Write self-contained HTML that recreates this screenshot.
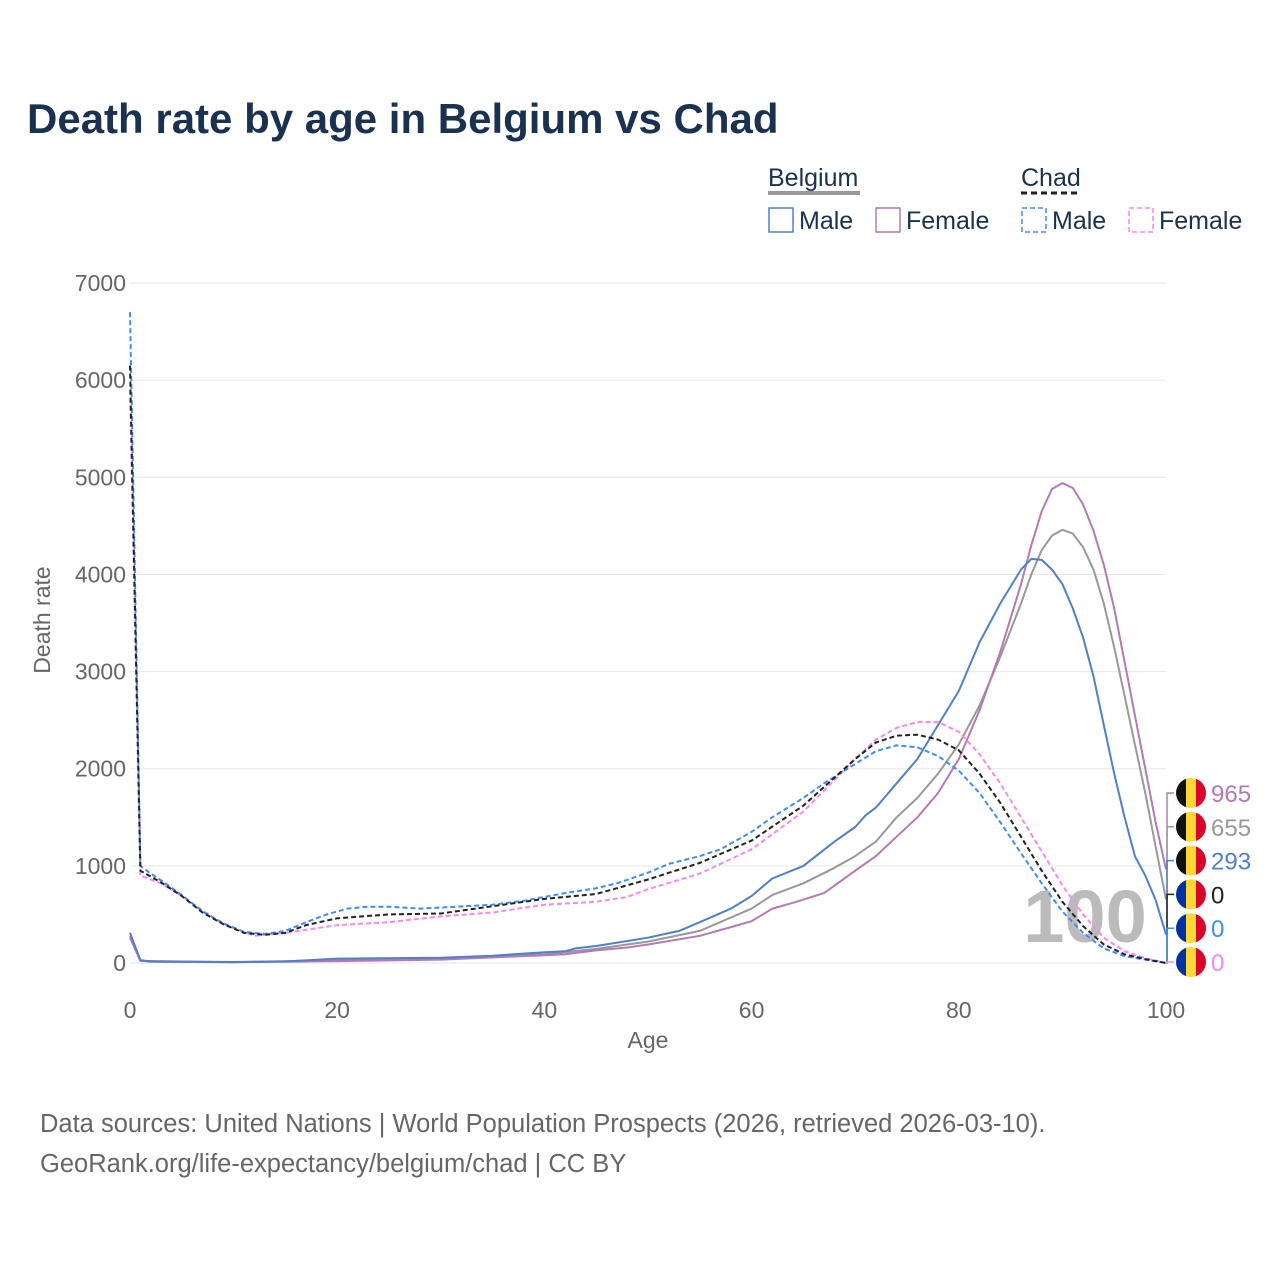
<!DOCTYPE html>
<html><head><meta charset="utf-8"><style>
body{margin:0;background:#fff;font-family:"Liberation Sans",sans-serif;}
</style></head><body>
<svg width="1280" height="1280" xmlns="http://www.w3.org/2000/svg" font-family="Liberation Sans, sans-serif">
<text x="27" y="133" font-size="42" font-weight="bold" fill="#1b3150">Death rate by age in Belgium vs Chad</text>
<g font-size="25" fill="#1b3150">
<text x="768" y="186">Belgium</text>
<line x1="768" y1="193" x2="860" y2="193" stroke="#999" stroke-width="4"/>
<text x="1021" y="186">Chad</text>
<line x1="1021" y1="193" x2="1081" y2="193" stroke="#222" stroke-width="3" stroke-dasharray="6,4"/>
<g><rect x="769" y="208" width="24" height="24" fill="none" stroke="#4f80c9" stroke-width="1.5"/><text x="799" y="229">Male</text></g>
<g><rect x="876" y="208" width="24" height="24" fill="none" stroke="#b579b5" stroke-width="1.5"/><text x="906" y="229">Female</text></g>
<g><rect x="1022" y="208" width="24" height="24" fill="none" stroke="#3f8cf6" stroke-width="1.5" stroke-dasharray="5,3"/><text x="1052" y="229">Male</text></g>
<g><rect x="1129" y="208" width="24" height="24" fill="none" stroke="#f986f3" stroke-width="1.5" stroke-dasharray="5,3"/><text x="1159" y="229">Female</text></g>
</g>
<g id="grid"></g>
<g id="axes" font-size="23" fill="#666"></g>
<text x="50" y="620" font-size="23" fill="#666" transform="rotate(-90 50 620)" text-anchor="middle">Death rate</text>
<text x="648" y="1048" font-size="23" fill="#666" text-anchor="middle">Age</text>
<text x="1085" y="942" font-size="74" font-weight="bold" fill="#bbb" text-anchor="middle">100</text>
<g id="series"></g>
<g id="endlabels" font-size="24"></g>
<text x="40" y="1132" font-size="25.5" fill="#666">Data sources: United Nations | World Population Prospects (2026, retrieved 2026-03-10).</text>
<text x="40" y="1172" font-size="25.5" fill="#666">GeoRank.org/life-expectancy/belgium/chad | CC BY</text>
</svg>
<script>
const yTicks=[0,1000,2000,3000,4000,5000,6000,7000];
const xTicks=[0,20,40,60,80,100];
const beMaleAges=[0,1,2,10,15,20,30,35,40,42,43,45,50,53,55,58,60,62,65,68,70,71,72,74,76,78,80,82,84,86,87,88,89,90,91,92,93,94,95,96,97,98,99,100];
const beMaleVals=[310,30,15,10,15,45,55,75,110,120,150,175,260,330,420,560,690,870,1000,1250,1400,1520,1600,1850,2100,2450,2800,3300,3700,4050,4160,4150,4050,3900,3650,3350,2950,2450,1950,1500,1100,900,650,293];
const beAllAges=[0,1,2,10,20,30,40,45,50,55,60,62,65,68,70,72,74,76,78,80,82,84,86,87,88,89,90,91,92,93,94,95,96,97,98,99,100];
const beAllVals=[280,25,12,8,30,45,90,145,220,330,560,700,820,980,1100,1250,1500,1700,1950,2250,2650,3150,3700,4000,4250,4400,4460,4420,4280,4050,3700,3250,2750,2250,1750,1200,655];
const beFemAges=[0,1,10,20,30,40,42,45,48,50,55,58,60,62,64,67,70,72,74,76,78,80,82,84,86,87,88,89,90,91,92,93,94,95,96,97,98,99,100];
const beFemVals=[260,22,8,20,35,80,90,130,160,190,280,370,430,560,620,720,950,1100,1300,1500,1750,2100,2600,3200,3900,4300,4650,4880,4940,4890,4720,4450,4100,3650,3100,2550,2000,1450,965];
const tdMaleAges=[0,1,2,3,5,7,9,11,13,15,17,19,21,23,25,28,30,35,38,40,42,45,47,50,52,55,57,60,62,65,67,70,72,74,76,78,80,82,84,86,88,90,92,94,96,98,100];
const tdMaleVals=[6700,1000,920,850,700,530,410,320,300,330,420,500,560,580,580,560,570,600,640,680,720,770,820,930,1020,1100,1170,1350,1500,1700,1850,2050,2180,2240,2220,2130,1980,1750,1450,1130,820,530,310,150,70,35,0];
const tdAllAges=[0,1,2,3,5,7,9,11,13,15,17,20,25,30,40,45,50,55,60,65,70,72,74,76,78,80,82,84,86,88,90,92,94,96,98,100];
const tdAllVals=[6150,950,890,830,690,520,400,310,290,310,390,460,500,510,660,710,860,1030,1260,1620,2100,2270,2340,2350,2300,2190,1950,1650,1300,950,630,380,190,90,40,0];
const tdFemAges=[0,1,3,5,7,9,12,15,20,25,30,35,40,45,48,50,55,60,65,70,72,74,76,78,80,82,84,86,88,90,92,94,96,98,100];
const tdFemVals=[5900,900,820,690,540,400,280,310,390,420,480,520,600,630,680,760,920,1170,1560,2100,2300,2420,2480,2480,2380,2150,1850,1500,1150,800,500,260,120,50,0];
const endLabels=["965","655","293","0","0","0"];
const NS="http://www.w3.org/2000/svg";
const X=a=>130+a*10.36, Y=v=>963-v*0.09714;
function mk(t,at){const e=document.createElementNS(NS,t);for(const k in at)e.setAttribute(k,at[k]);return e;}
const grid=document.getElementById('grid'),axes=document.getElementById('axes');
yTicks.forEach(v=>{
 const l=mk('line',{x1:130,x2:1166,y1:Y(v),y2:Y(v),stroke:'#e6e6e6','stroke-width':1});
 
 
 grid.appendChild(l);
 const t=mk('text',{x:126,y:Y(v)+8,'text-anchor':'end'});t.textContent=v;
 
 
 axes.appendChild(t);});
xTicks.forEach(v=>{
 const t=mk('text',{x:X(v),y:1018,'text-anchor':'middle'});t.textContent=v;
 
 
 axes.appendChild(t);});
const sg=document.getElementById('series');
function draw(ages,vals,color,dash,name,w){
 const d=ages.map((a,i)=>(i?'L':'M')+X(a).toFixed(1)+','+Y(vals[i]).toFixed(1)).join('');
 const p=mk('path',{d:d,fill:'none',stroke:color,'stroke-width':w||2,'stroke-linejoin':'round'});
 if(dash)p.setAttribute('stroke-dasharray',dash);
 
 
 sg.appendChild(p);}
draw(beAllAges,beAllVals,'#999',null,'line-belgium-total');
draw(beFemAges,beFemVals,'#b579b5',null,'line-belgium-female');
draw(beMaleAges,beMaleVals,'#4f80c9',null,'line-belgium-male');
draw(tdFemAges,tdFemVals,'#f986f3','5,3','line-chad-female');
draw(tdMaleAges,tdMaleVals,'#3f8cf6','5,3','line-chad-male');
draw(tdAllAges,tdAllVals,'#222','5,3','line-chad-total');
const el=document.getElementById('endlabels');
const cols=['#b579b5','#999','#4f80c9','#222','#3f8cf6','#f986f3'];
const ends=[beFemVals[beFemVals.length-1],beAllVals[beAllVals.length-1],beMaleVals[beMaleVals.length-1],0,0,0];
endLabels.forEach((s,i)=>{
 const y=793+i*33.8;
 const br=mk('path',{d:`M1166,${Y(ends[i])}L1167,${Y(ends[i])}L1167,${y}L1174,${y}`,fill:'none',stroke:cols[i],'stroke-width':1.5});
 
 
 el.appendChild(br);
 const g=mk('g',{});
 
 
 const c1=i<3?'#111':'#0033a0';
 g.appendChild(mk('clipPath',{id:'fc'+i})).appendChild(mk('circle',{cx:1191,cy:y,r:15}));
 [[1176,c1],[1186,'#fdd835'],[1196,'#d90429']].forEach(([x,c])=>g.appendChild(mk('rect',{x:x,y:y-15,width:10.1,height:30,fill:c,'clip-path':`url(#fc${i})`})));
 el.appendChild(g);
 const t=mk('text',{x:1211,y:y+9,fill:cols[i]});t.textContent=s;
 
 
 el.appendChild(t);});
</script>
</body></html>
